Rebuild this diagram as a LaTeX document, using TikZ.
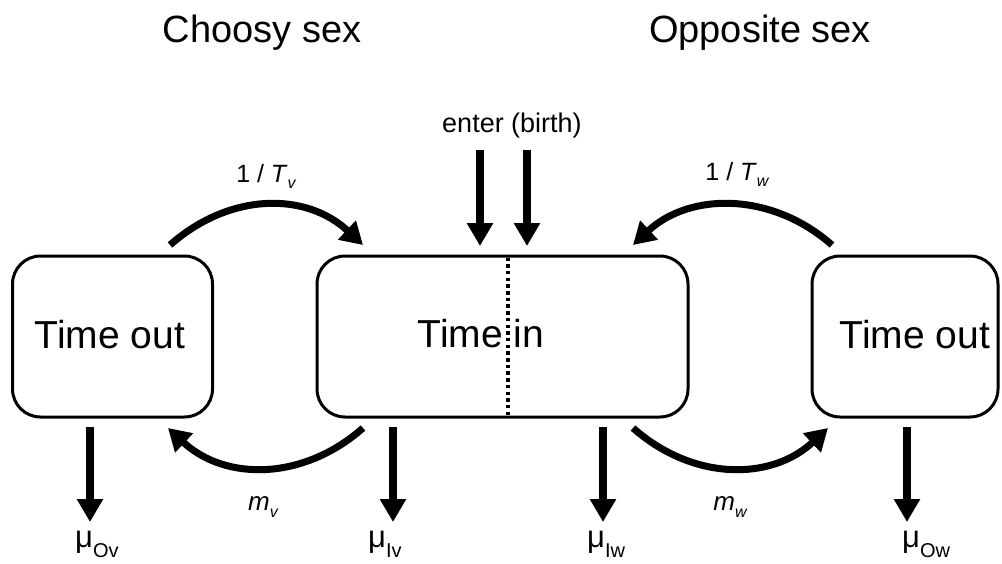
\documentclass[tikz,border=0pt]{standalone}
\usepackage{fontspec}
\setmainfont{Liberation Sans}
\usetikzlibrary{arrows.meta,calc}
\newcommand{\lowsub}[3]{\raisebox{-#1}{\fontsize{#2}{#2}\selectfont #3}}
\begin{document}
\begin{tikzpicture}[x=1pt,y=-1pt,
  box/.style={draw, line width=3pt, rounded corners=28pt, minimum height=161pt, inner sep=0pt, outer sep=0pt},
  arr/.style={line width=7.5pt, -{Triangle[length=23pt,width=25pt]}},
  carr/.style={line width=7pt, -{Triangle[length=22pt,width=25pt]}},
  boxtext/.style={font=\fontsize{39}{44}\selectfont, inner sep=0pt, anchor=base},
  title/.style={font=\fontsize{38}{44}\selectfont, inner sep=0pt, anchor=base},
  lab/.style={font=\fontsize{25}{30}\selectfont, inner sep=0pt, anchor=base},
  mulab/.style={font=\fontsize{31}{36}\selectfont, inner sep=0pt, anchor=base west},
  divider/.style={line width=4pt, dash pattern=on 3.5pt off 3.2pt}
]
\useasboundingbox (0,0) rectangle (1002,563);

% titles
\node[title] (choosy) at (262,42) {Choosy sex};
\node[title] (opposite) at (760,42) {Opposite sex};

% boxes
\node[box, minimum width=200pt] (lbox) at (112.5,336.5) {};
\node[box, minimum width=371pt] (mbox) at (502.5,336.5) {};
\node[box, minimum width=186pt] (rbox) at (905,336.5) {};

\node[boxtext] (ltext) at (110,348) {Time out};
\node[boxtext] (mtext) at (481,347) {Time in};
\node[boxtext] (rtext) at (915,348) {Time out};

\draw[divider] ([xshift=5.5pt, yshift=-1.5pt]mbox.north) -- ([xshift=5.5pt]mbox.south);

% enter arrows
\node[lab, font=\fontsize{27}{32}\selectfont] (enter) at (512,132) {enter (birth)};
\coordinate (e1) at (480,150);
\coordinate (e2) at (527,150);
\draw[arr, shorten >=10pt] (e1) -- (e1 |- mbox.north);
\draw[arr, shorten >=10pt] (e2) -- (e2 |- mbox.north);

% curved arrows top
\coordinate (a1s) at ([xshift=57.5pt, yshift=11pt]lbox.north);
\coordinate (a1e) at ([xshift=46pt, yshift=11pt]mbox.north west);
\draw[carr] (a1s) .. controls +(60,-53) and +(-57,-53) .. (a1e);
\coordinate (a2s) at ([xshift=-73pt, yshift=11pt]rbox.north);
\coordinate (a2e) at ([xshift=-55pt, yshift=11pt]mbox.north east);
\draw[carr] (a2s) .. controls +(-60,-53) and +(57,-53) .. (a2e);

% curved arrows bottom
\coordinate (b1s) at ([xshift=46pt, yshift=-11pt]mbox.south west);
\coordinate (b1e) at ([xshift=55.5pt, yshift=-11pt]lbox.south);
\draw[carr] (b1s) .. controls +(-60,53) and +(57,53) .. (b1e);
\coordinate (b2s) at ([xshift=-55pt, yshift=-11pt]mbox.south east);
\coordinate (b2e) at ([xshift=-77pt, yshift=-11pt]rbox.south);
\draw[carr] (b2s) .. controls +(60,53) and +(-57,53) .. (b2e);

% rate labels
\node[lab] (Tv) at (266,182) {1 / \textit{T}\lowsub{6pt}{16}{\itshape v}};
\node[lab] (Tw) at (737,180) {1 / \textit{T}\lowsub{6pt}{16}{\itshape w}};
\node[lab, font=\fontsize{26}{30}\selectfont] (mv) at (263,510) {\textit{m}\lowsub{7pt}{16}{\itshape v}};
\node[lab, font=\fontsize{26}{30}\selectfont] (mw) at (730,510) {\textit{m}\lowsub{7pt}{16}{\itshape w}};

% death arrows
\coordinate (d1) at (90,522);
\coordinate (d2) at (393,522);
\coordinate (d3) at (603,522);
\coordinate (d4) at (907,522);
\draw[arr, shorten <=10pt] (d1 |- lbox.south) -- (d1);
\draw[arr, shorten <=10pt] (d2 |- mbox.south) -- (d2);
\draw[arr, shorten <=10pt] (d3 |- mbox.south) -- (d3);
\draw[arr, shorten <=10pt] (d4 |- rbox.south) -- (d4);

\node[mulab] (muOv) at (75,547) {μ\lowsub{10pt}{20}{Ov}};
\node[mulab] (muIv) at (368,547) {μ\lowsub{10pt}{20}{Iv}};
\node[mulab] (muIw) at (587,547) {μ\lowsub{10pt}{20}{Iw}};
\node[mulab] (muOw) at (902,547) {μ\lowsub{10pt}{20}{Ow}};
\end{tikzpicture}
\end{document}
